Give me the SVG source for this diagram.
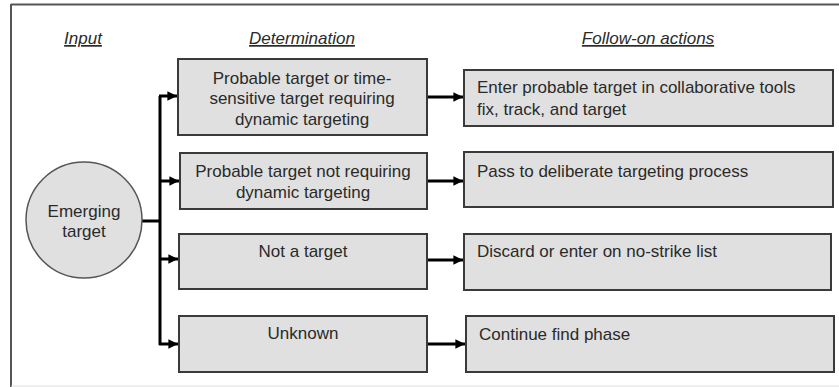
<svg xmlns="http://www.w3.org/2000/svg" width="839" height="387" viewBox="0 0 839 387">
<defs>
<style>
text{font-family:"Liberation Sans",Arial,sans-serif;font-size:17px;fill:#2a2a2a}
.h{font-style:italic;text-decoration:underline;text-anchor:middle}
.c{text-anchor:middle}
.box{fill:#e0e0e0;stroke:#3a3a3a;stroke-width:2}
.ln{fill:none;stroke:#000;stroke-width:3}
</style>
<marker id="ah" viewBox="0 0 10 10" refX="10" refY="5" markerWidth="3.2" markerHeight="3.2" orient="auto" markerUnits="strokeWidth">
<path d="M0,0 L10,5 L0,10 z" fill="#000"/>
</marker>
</defs>
<rect width="839" height="387" fill="#fff"/>
<g id="frame">
<line x1="11" y1="4.5" x2="839" y2="4.5" stroke="#555" stroke-width="2"/>
<line x1="11" y1="4" x2="11" y2="387" stroke="#555" stroke-width="2"/>
<line x1="11" y1="386" x2="839" y2="386" stroke="#ddd" stroke-width="1"/>
</g>
<g id="headers">
<text class="h" x="83" y="44">Input</text>
<text class="h" x="302" y="44">Determination</text>
<text class="h" x="648" y="44">Follow-on actions</text>
</g>
<g id="connectors">
<polyline class="ln" points="142,221 160,221"/>
<line class="ln" x1="160" y1="96" x2="160" y2="345"/>
<line class="ln" x1="159" y1="96" x2="177" y2="96" marker-end="url(#ah)"/>
<line class="ln" x1="159" y1="181" x2="179" y2="181" marker-end="url(#ah)"/>
<line class="ln" x1="159" y1="259" x2="178" y2="259" marker-end="url(#ah)"/>
<line class="ln" x1="159" y1="344" x2="178" y2="344" marker-end="url(#ah)"/>
<line class="ln" x1="427" y1="97" x2="463" y2="97" marker-end="url(#ah)"/>
<line class="ln" x1="427" y1="181" x2="463" y2="181" marker-end="url(#ah)"/>
<line class="ln" x1="427" y1="260" x2="463" y2="260" marker-end="url(#ah)"/>
<line class="ln" x1="427" y1="344" x2="465" y2="344" marker-end="url(#ah)"/>
</g>
<g id="emerging">
<circle cx="84" cy="220" r="58" fill="#e0e0e0" stroke="#555" stroke-width="1.5"/>
<text class="c" x="84" y="217">Emerging</text>
<text class="c" x="84" y="237">target</text>
</g>
<g id="det1">
<rect class="box" x="178" y="59" width="249" height="76"/>
<text class="c" x="302" y="84">Probable target or time-</text>
<text class="c" x="302" y="104">sensitive target requiring</text>
<text class="c" x="302" y="125">dynamic targeting</text>
</g>
<g id="det2">
<rect class="box" x="180" y="153" width="247" height="56"/>
<text class="c" x="303" y="177">Probable target not requiring</text>
<text class="c" x="303" y="198">dynamic targeting</text>
</g>
<g id="det3">
<rect class="box" x="179" y="234" width="248" height="55"/>
<text class="c" x="303" y="257">Not a target</text>
</g>
<g id="det4">
<rect class="box" x="179" y="316" width="248" height="56"/>
<text class="c" x="303" y="339">Unknown</text>
</g>
<g id="act1">
<rect class="box" x="464" y="70" width="369" height="56"/>
<text x="477" y="93">Enter probable target in collaborative tools</text>
<text x="477" y="115">fix, track, and target</text>
</g>
<g id="act2">
<rect class="box" x="464" y="152" width="369" height="55"/>
<text x="477" y="177">Pass to deliberate targeting process</text>
</g>
<g id="act3">
<rect class="box" x="464" y="234" width="367" height="56"/>
<text x="477" y="257">Discard or enter on no-strike list</text>
</g>
<g id="act4">
<rect class="box" x="466" y="316" width="368" height="56"/>
<text x="479" y="340">Continue find phase</text>
</g>
</svg>
